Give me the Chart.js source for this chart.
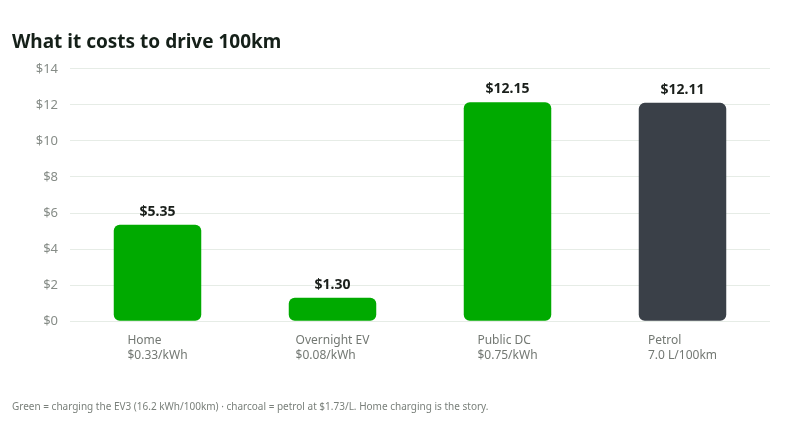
<!DOCTYPE html>
<html>
<head>
<meta charset="utf-8">
<script src="https://cdn.jsdelivr.net/npm/chart.js@4"></script>
<style>
  html, body { margin: 0; padding: 0; background: #fff; }
  #wrap { width: 800px; height: 430px; }
</style>
</head>
<body>
<div id="wrap"><canvas id="costChart"></canvas></div>
<script>
// --- data ---
const categories = ['Home', 'Overnight EV', 'Public DC', 'Petrol'];
const rateLabels = ['$0.33/kWh', '$0.08/kWh', '$0.75/kWh', '7.0 L/100km'];
const costPer100km = [5.35, 1.30, 12.15, 12.11];
const barColours = ['#00aa00', '#00aa00', '#00aa00', '#3a4048'];
const yTicks = [0, 2, 4, 6, 8, 10, 12, 14];

const FONT = '"Noto Sans", "Open Sans", sans-serif';

// value labels above each bar
const valueLabels = {
  id: 'valueLabels',
  afterDatasetsDraw(chart) {
    const ctx = chart.ctx;
    const meta = chart.getDatasetMeta(0);
    ctx.save();
    ctx.font = 'bold 14px ' + FONT;
    ctx.fillStyle = '#1a1f1b';
    ctx.textAlign = 'center';
    ctx.textBaseline = 'bottom';
    meta.data.forEach((bar, i) => {
      ctx.fillText('$' + costPer100km[i].toFixed(2), bar.x, bar.y - 6);
    });
    ctx.restore();
  }
};

// two-line category labels, left aligned as a block under each bar
const blockLabels = {
  id: 'blockLabels',
  afterDraw(chart) {
    const ctx = chart.ctx;
    const x = chart.scales.x;
    const top = chart.chartArea.bottom + 19;
    ctx.save();
    ctx.font = '12px ' + FONT;
    ctx.fillStyle = '#737873';
    ctx.textAlign = 'left';
    ctx.textBaseline = 'middle';
    categories.forEach((cat, i) => {
      const lines = [cat, rateLabels[i]];
      const w = Math.max(...lines.map(l => ctx.measureText(l).width));
      const left = x.getPixelForValue(i) - w / 2;
      lines.forEach((l, j) => ctx.fillText(l, left, top + j * 15));
    });
    ctx.restore();
  }
};

new Chart(document.getElementById('costChart'), {
  type: 'bar',
  data: {
    labels: categories.map((c, i) => [c, rateLabels[i]]),
    datasets: [{
      data: costPer100km,
      backgroundColor: barColours,
      borderRadius: 6,
      borderSkipped: false,
      barPercentage: 0.5,
      categoryPercentage: 1
    }]
  },
  options: {
    responsive: true,
    maintainAspectRatio: false,
    animation: false,
    layout: { padding: { top: 31, left: 12, right: 30, bottom: 17 } },
    plugins: {
      legend: { display: false },
      tooltip: { enabled: false },
      title: {
        display: true,
        text: 'What it costs to drive 100km',
        align: 'start',
        color: '#152019',
        font: { family: FONT, size: 19, weight: 'bold' },
        padding: { top: 0, bottom: 15 }
      },
      subtitle: {
        display: true,
        position: 'bottom',
        align: 'start',
        text: 'Green = charging the EV3 (16.2 kWh/100km) · charcoal = petrol at $1.73/L. Home charging is the story.',
        color: '#7a807b',
        font: { family: FONT, size: 10 },
        padding: { top: 23, bottom: 0 }
      }
    },
    scales: {
      x: {
        grid: { display: false },
        border: { display: false },
        ticks: {
          color: 'rgba(0,0,0,0)',
          font: { family: FONT, size: 12 },
          padding: 10
        }
      },
      y: {
        min: 0,
        max: 14,
        afterFit: s => { s.width = 58; },
        afterBuildTicks: s => { s.ticks = yTicks.map(v => ({ value: v })); },
        grid: { color: '#e6ece6', drawTicks: false },
        border: { display: false },
        ticks: {
          color: '#868c87',
          padding: 12,
          font: { family: FONT, size: 13 },
          callback: v => '$' + v
        }
      }
    }
  },
  plugins: [valueLabels, blockLabels]
});
</script>
</body>
</html>
